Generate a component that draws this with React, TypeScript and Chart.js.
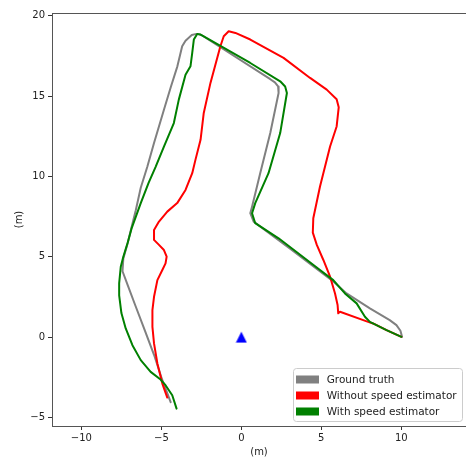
import React, { useEffect, useRef } from 'react';
import { Chart, registerables } from 'chart.js';

Chart.register(...registerables);

// ---------- data ----------
const seriesLabels = ['Ground truth', 'Without speed estimator', 'With speed estimator'];
const seriesColors = ['#808080', '#ff0000', '#008000'];

const gtX = [-4.42, -4.94, -5.46, -6.03, -6.64, -7.13, -7.43, -7.38, -7.12, -6.9, -6.6, -6.29, -5.88, -5.46, -4.84, -4.4, -4.0, -3.7, -3.49, -3.1, -2.8, -2.5, 1.81, 2.1, 2.3, 2.33, 1.81, 1.18, 0.67, 0.56, 0.77, 3.05, 5.65, 6.58, 8.04, 9.28, 9.7, 9.95, 10.05];
const gtY = [-4.05, -2.68, -1.1, 0.4, 2.0, 3.3, 4.1, 4.9, 5.8, 6.7, 7.9, 9.3, 10.6, 12.08, 14.15, 15.6, 16.85, 18.1, 18.45, 18.8, 18.87, 18.8, 16.05, 15.85, 15.6, 15.19, 12.7, 10.2, 8.12, 7.71, 7.19, 5.5, 3.55, 2.72, 1.79, 1.06, 0.75, 0.4, 0.02];

const noSpeedX = [-4.63, -4.94, -5.25, -5.46, -5.56, -5.56, -5.46, -5.25, -4.94, -4.74, -4.67, -4.84, -5.15, -5.46, -5.46, -5.15, -4.63, -4.01, -3.49, -3.07, -2.87, -2.55, -2.35, -1.93, -1.31, -1.1, -0.79, -0.37, 0.56, 2.64, 4.3, 5.34, 5.96, 6.09, 5.96, 5.55, 4.92, 4.5, 4.47, 4.72, 5.13, 5.55, 5.86, 6.02, 6.06, 6.17, 7.93, 8.24, 9.08, 10.01];
const noSpeedY = [-3.76, -2.89, -1.64, -0.39, 0.64, 1.68, 2.51, 3.55, 4.18, 4.59, 5.01, 5.42, 5.74, 6.05, 6.67, 7.19, 7.81, 8.34, 9.16, 10.2, 11.03, 12.28, 13.95, 15.82, 18.1, 18.72, 19.03, 18.93, 18.52, 17.38, 16.13, 15.4, 14.8, 14.3, 13.11, 11.86, 9.37, 7.4, 6.5, 5.74, 4.8, 3.76, 2.72, 2.0, 1.48, 1.58, 0.95, 0.85, 0.44, 0.02];

const withSpeedX = [-4.05, -4.32, -4.74, -5.05, -5.67, -6.29, -6.81, -7.23, -7.5, -7.64, -7.64, -7.54, -7.38, -7.1, -6.85, -6.29, -5.8, -5.36, -4.84, -4.22, -3.91, -3.49, -3.18, -3.07, -2.97, -2.76, -2.55, -2.35, 0.56, 2.43, 2.74, 2.85, 2.43, 1.7, 0.87, 0.67, 0.87, 2.33, 4.92, 5.75, 6.48, 7.21, 7.73, 8.04, 9.08, 10.01];
const withSpeedY = [-4.45, -3.62, -2.99, -2.64, -2.16, -1.43, -0.5, 0.54, 1.5, 2.6, 3.35, 4.38, 5.0, 5.9, 6.8, 8.34, 9.6, 10.6, 11.86, 13.32, 14.78, 16.33, 16.85, 17.69, 18.52, 18.87, 18.83, 18.72, 17.06, 15.92, 15.6, 15.19, 12.7, 10.2, 8.34, 7.71, 7.09, 6.15, 4.18, 3.55, 2.72, 2.1, 1.27, 0.95, 0.44, 0.02];

const originX = [0];
const originY = [0];

const xTicks = [-10, -5, 0, 5, 10];
const yTicks = [-5, 0, 5, 10, 15, 20];
const xRange = [-11.84, 14.05];
const yRange = [-5.53, 20.17];

// ---------- helpers ----------
const toPts = (xs: number[], ys: number[]) => xs.map((x, i) => ({ x, y: ys[i] }));
const fmt = (v: number | string) => {
  const n = Number(v);
  return n < 0 ? '\u2212' + Math.abs(n) : String(n);
};
const FONT = 'DejaVu Sans';
const TEXT = '#222222';
const SPINE = '#555555';

const framePlugin = {
  id: 'mplFrame',
  afterDraw(chart: any) {
    const { ctx, chartArea: ca } = chart;
    ctx.save();
    // top spine
    ctx.strokeStyle = SPINE;
    ctx.lineWidth = 1;
    ctx.beginPath();
    ctx.moveTo(ca.left, Math.round(ca.top) + 0.5);
    ctx.lineTo(ca.right, Math.round(ca.top) + 0.5);
    ctx.stroke();

    // legend (lower right)
    const w = 169;
    const h = 53;
    const right = ca.right - 3.5;
    const bottom = ca.bottom - 4.5;
    const left = right - w;
    const top = bottom - h;
    ctx.beginPath();
    if ((ctx as any).roundRect) (ctx as any).roundRect(left, top, w, h, 3);
    else ctx.rect(left, top, w, h);
    ctx.fillStyle = 'rgba(255,255,255,0.8)';
    ctx.fill();
    ctx.strokeStyle = '#cccccc';
    ctx.lineWidth = 1;
    ctx.stroke();
    ctx.font = `10.5px "${FONT}"`;
    ctx.textBaseline = 'middle';
    ctx.textAlign = 'left';
    seriesLabels.forEach((label, i) => {
      const cy = top + 11 + i * 16;
      ctx.fillStyle = seriesColors[i];
      ctx.fillRect(left + 2.5, cy - 4, 23, 8);
      ctx.fillStyle = TEXT;
      ctx.fillText(label, left + 33.2, cy + 0.5);
    });
    ctx.restore();
  },
};

export default function App() {
  const canvasRef = useRef<HTMLCanvasElement | null>(null);

  useEffect(() => {
    const canvas = canvasRef.current;
    if (!canvas) return;

    // blue upward triangle marker (centered on its bounding box)
    const tri = document.createElement('canvas');
    tri.width = 12;
    tri.height = 12;
    const tctx = tri.getContext('2d')!;
    tctx.fillStyle = '#0000ff';
    tctx.beginPath();
    tctx.moveTo(6, 0.5);
    tctx.lineTo(0.5, 11.5);
    tctx.lineTo(11.5, 11.5);
    tctx.closePath();
    tctx.fill();

    const lineDs = (i: number, xs: number[], ys: number[], order: number, width: number) => ({
      label: seriesLabels[i],
      data: toPts(xs, ys),
      showLine: true,
      borderColor: seriesColors[i],
      backgroundColor: seriesColors[i],
      borderWidth: width,
      pointRadius: 0,
      tension: 0,
      order,
      borderJoinStyle: 'round' as const,
      borderCapStyle: 'round' as const,
    });

    const chart = new Chart(canvas, {
      type: 'scatter',
      data: {
        datasets: [
          lineDs(0, gtX, gtY, 3, 2),
          lineDs(1, noSpeedX, noSpeedY, 2, 2),
          lineDs(2, withSpeedX, withSpeedY, 1, 2),
          {
            label: 'origin',
            data: toPts(originX, originY),
            pointStyle: tri as any,
            pointRadius: 6,
            backgroundColor: '#0000ff',
            borderColor: '#0000ff',
            showLine: false,
            order: 0,
          } as any,
        ],
      },
      options: {
        responsive: false,
        animation: false,
        events: [],
        layout: { autoPadding: false, padding: { top: 13, right: 0, bottom: 0, left: 0 } },
        plugins: {
          legend: { display: false },
          tooltip: { enabled: false },
          title: { display: false },
        },
        scales: {
          x: {
            type: 'linear',
            position: 'bottom',
            min: xRange[0],
            max: xRange[1],
            afterFit: (s: any) => {
              s.height = 32;
              s.paddingLeft = 0;
              s.paddingRight = 0;
            },
            afterBuildTicks: (s: any) => {
              s.ticks = xTicks.map((v) => ({ value: v }));
            },
            grid: {
              display: true,
              drawOnChartArea: false,
              drawTicks: true,
              tickLength: 4,
              tickColor: '#333333',
              tickWidth: 1,
            },
            border: { display: true, color: SPINE, width: 1 },
            ticks: {
              autoSkip: false,
              maxRotation: 0,
              padding: 2,
              color: TEXT,
              font: { family: FONT, size: 10 },
              callback: (v: any) => fmt(v),
            },
            title: {
              display: true,
              text: '(m)',
              color: TEXT,
              font: { family: FONT, size: 10 },
              padding: { top: 0, bottom: 0 },
            },
          },
          y: {
            type: 'linear',
            position: 'left',
            min: yRange[0],
            max: yRange[1],
            afterFit: (s: any) => {
              s.width = 52;
              s.paddingTop = 0;
              s.paddingBottom = 0;
            },
            afterBuildTicks: (s: any) => {
              s.ticks = yTicks.map((v) => ({ value: v }));
            },
            grid: {
              display: true,
              drawOnChartArea: false,
              drawTicks: true,
              tickLength: 4,
              tickColor: '#333333',
              tickWidth: 1,
            },
            border: { display: true, color: SPINE, width: 1 },
            ticks: {
              autoSkip: false,
              padding: 3,
              color: TEXT,
              font: { family: FONT, size: 10 },
              callback: (v: any) => fmt(v),
            },
            title: {
              display: true,
              text: '(m)',
              color: TEXT,
              font: { family: FONT, size: 10 },
              padding: { top: 13, bottom: 0 },
            },
          },
        },
      },
      plugins: [framePlugin],
    } as any);

    return () => chart.destroy();
  }, []);

  return (
    <div style={{ position: 'absolute', left: 0, top: 0, width: 466, height: 458, background: '#fff' }}>
      <canvas ref={canvasRef} width={466} height={458} style={{ display: 'block', width: 466, height: 458 }} />
    </div>
  );
}
